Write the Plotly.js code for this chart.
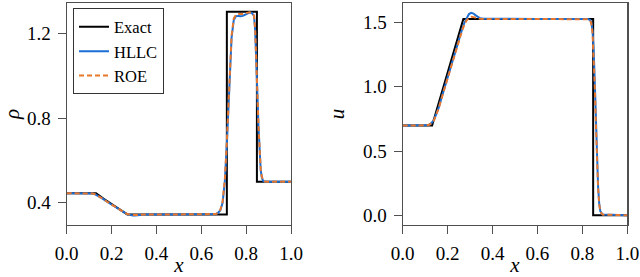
<!DOCTYPE html>
<html>
<head>
<meta charset="utf-8">
<script src="https://cdn.plot.ly/plotly-3.0.1.min.js"></script>
<style>html,body{margin:0;padding:0;background:#fff;}#chart{width:640px;height:277px;}</style>
</head>
<body>
<div id="chart"></div>
<script>
// ---- data ----
const seriesNames = ["Exact", "HLLC", "ROE"];
const xTicks = [0.0, 0.2, 0.4, 0.6, 0.8, 1.0];
const xTickLabels = ["0.0", "0.2", "0.4", "0.6", "0.8", "1.0"];
const rhoTicks = [0.4, 0.8, 1.2];
const rhoTickLabels = ["0.4", "0.8", "1.2"];
const uTicks = [0.0, 0.5, 1.0, 1.5];
const uTickLabels = ["0.0", "0.5", "1.0", "1.5"];

// density
const exactRhoX = [0, 0.131, 0.165, 0.2, 0.235, 0.270, 0.714, 0.714, 0.848, 0.848, 1.0];
const exactRho  = [0.445, 0.445, 0.419, 0.393, 0.369, 0.345, 0.345, 1.304, 1.304, 0.5, 0.5];

const numRhoX = [0, 0.10, 0.115, 0.125, 0.135, 0.145, 0.16, 0.18, 0.20, 0.22, 0.24, 0.255, 0.265, 0.275, 0.285, 0.295, 0.305, 0.315, 0.33, 0.35, 0.5, 0.65, 0.665, 0.675, 0.685, 0.695, 0.705, 0.715, 0.725, 0.735, 0.745, 0.755, 0.765, 0.775, 0.785, 0.795, 0.805, 0.815, 0.825, 0.835, 0.84, 0.845, 0.85, 0.855, 0.86, 0.865, 0.87, 0.875, 0.88, 0.89, 1.0];
const hllcRho = [0.445, 0.445, 0.444, 0.441, 0.436, 0.430, 0.420, 0.405, 0.391, 0.377, 0.363, 0.354, 0.349, 0.345, 0.342, 0.340, 0.340, 0.341, 0.343, 0.345, 0.345, 0.345, 0.347, 0.352, 0.365, 0.400, 0.500, 0.700, 0.980, 1.180, 1.265, 1.283, 1.284, 1.282, 1.284, 1.290, 1.296, 1.300, 1.298, 1.285, 1.220, 1.100, 0.920, 0.760, 0.630, 0.555, 0.520, 0.505, 0.501, 0.500, 0.500];
const roeRho  = [0.445, 0.445, 0.444, 0.441, 0.436, 0.430, 0.420, 0.405, 0.391, 0.377, 0.363, 0.354, 0.349, 0.346, 0.343, 0.342, 0.342, 0.343, 0.344, 0.345, 0.345, 0.345, 0.347, 0.353, 0.367, 0.405, 0.510, 0.710, 0.990, 1.190, 1.272, 1.290, 1.293, 1.292, 1.293, 1.296, 1.300, 1.301, 1.298, 1.286, 1.225, 1.105, 0.925, 0.765, 0.635, 0.558, 0.522, 0.506, 0.501, 0.500, 0.500];

// velocity
const exactUX = [0, 0.131, 0.270, 0.848, 0.848, 1.0];
const exactU  = [0.698, 0.698, 1.528, 1.528, 0.0, 0.0];

const numUX = [0, 0.10, 0.11, 0.12, 0.13, 0.14, 0.15, 0.16, 0.18, 0.20, 0.22, 0.24, 0.255, 0.265, 0.275, 0.285, 0.295, 0.305, 0.315, 0.325, 0.335, 0.345, 0.36, 0.4, 0.6, 0.8, 0.825, 0.835, 0.84, 0.845, 0.85, 0.855, 0.86, 0.865, 0.87, 0.875, 0.88, 0.89, 1.0];
const hllcU = [0.698, 0.698, 0.700, 0.707, 0.722, 0.745, 0.785, 0.835, 0.955, 1.075, 1.195, 1.310, 1.395, 1.450, 1.500, 1.540, 1.566, 1.576, 1.570, 1.556, 1.542, 1.533, 1.529, 1.528, 1.528, 1.528, 1.527, 1.520, 1.500, 1.440, 1.300, 1.050, 0.750, 0.450, 0.220, 0.090, 0.030, 0.005, 0.0];
const roeU  = [0.698, 0.698, 0.700, 0.706, 0.720, 0.742, 0.780, 0.830, 0.950, 1.070, 1.190, 1.305, 1.388, 1.440, 1.485, 1.518, 1.536, 1.544, 1.542, 1.536, 1.532, 1.529, 1.528, 1.528, 1.528, 1.528, 1.526, 1.515, 1.490, 1.420, 1.270, 1.020, 0.720, 0.430, 0.210, 0.085, 0.028, 0.005, 0.0];

// ---- styling ----
const FONT = "Liberation Serif";
const cExact = "#000000", cHllc = "#1a6ed4", cRoe = "#e8772e";
const frame = "#505050";

const traces = [
  {x: exactRhoX, y: exactRho, name: seriesNames[0], mode: "lines", line: {color: cExact, width: 2}, xaxis: "x", yaxis: "y"},
  {x: numRhoX, y: hllcRho, name: seriesNames[1], mode: "lines", line: {color: cHllc, width: 2}, xaxis: "x", yaxis: "y"},
  {x: numRhoX, y: roeRho, name: seriesNames[2], mode: "lines", line: {color: cRoe, width: 2, dash: "5px,3px"}, xaxis: "x", yaxis: "y"},
  {x: exactUX, y: exactU, name: seriesNames[0], mode: "lines", line: {color: cExact, width: 2}, xaxis: "x2", yaxis: "y2", showlegend: false},
  {x: numUX, y: hllcU, name: seriesNames[1], mode: "lines", line: {color: cHllc, width: 2}, xaxis: "x2", yaxis: "y2", showlegend: false},
  {x: numUX, y: roeU, name: seriesNames[2], mode: "lines", line: {color: cRoe, width: 2, dash: "5px,3px"}, xaxis: "x2", yaxis: "y2", showlegend: false}
];

function xax(domain, anchor) {
  return {
    domain: domain, anchor: anchor, range: [0, 1],
    tickvals: xTicks, ticktext: xTickLabels,
    ticks: "outside", ticklen: 8, tickwidth: 1, tickcolor: frame,
    showline: true, mirror: true, linecolor: frame, linewidth: 1.2,
    showgrid: false, zeroline: false,
    tickfont: {family: FONT, size: 19, color: "#000"},
    ticklabelposition: "outside",
    ticklabelstandoff: 3,
    title: {text: "<i>x</i>", font: {family: FONT, size: 21, color: "#000"}, standoff: 2}
  };
}
function yax(domain, anchor, range, tv, tt, title, so) {
  return {
    domain: domain, anchor: anchor, range: range,
    tickvals: tv, ticktext: tt,
    ticks: "outside", ticklen: 8, tickwidth: 1, tickcolor: frame,
    showline: true, mirror: true, linecolor: frame, linewidth: 1.2,
    showgrid: false, zeroline: false,
    tickfont: {family: FONT, size: 19, color: "#000"},
    ticklabelposition: "outside",
    ticklabelstandoff: 3,
    title: {text: title, font: {family: FONT, size: 21, color: "#000"}, standoff: so}
  };
}

const ML = 66, MR = 12, W = 640;
const PW = W - ML - MR;
const layout = {
  width: 640, height: 277,
  margin: {l: ML, r: MR, t: 2.5, b: 52, pad: 0},
  paper_bgcolor: "#fff", plot_bgcolor: "#fff",
  showlegend: true,
  font: {family: FONT, size: 18},
  xaxis: xax([(66.7 - ML) / PW, (291 - ML) / PW], "y"),
  yaxis: yax([0, 1], "x", [0.295, 1.345], rhoTicks, rhoTickLabels, "<i>ρ</i>", 22),
  xaxis2: xax([(402.7 - ML) / PW, (627.3 - ML) / PW], "y2"),
  yaxis2: yax([0, 1], "x2", [-0.076, 1.652], uTicks, uTickLabels, "<i>u</i>", 12),
  legend: {
    x: (73 - ML) / PW, y: 1 - 5.5 / 222.5, xanchor: "left", yanchor: "top",
    bgcolor: "#fff", bordercolor: "#333", borderwidth: 1,
    font: {family: FONT, size: 16.5, color: "#000"},
    itemwidth: 30, tracegroupgap: 0
  }
};

Plotly.newPlot("chart", traces, layout, {staticPlot: true, displayModeBar: false});
</script>
</body>
</html>
